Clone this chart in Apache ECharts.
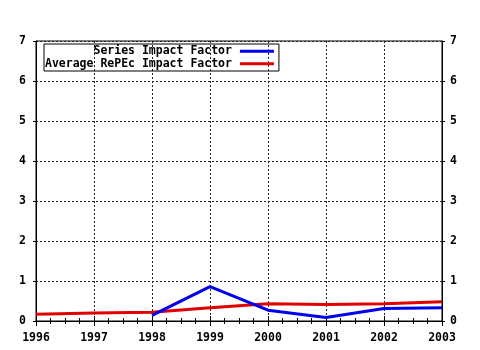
<!DOCTYPE html>
<html>
<head>
<meta charset="utf-8">
<style>
  html, body { margin: 0; padding: 0; background: #fff; }
  #chart { width: 480px; height: 350px; }
</style>
<script src="https://cdn.jsdelivr.net/npm/echarts@6/dist/echarts.min.js"></script>
</head>
<body>
<div id="chart"></div>
<script>
// Impact factor by year
var seriesYears = [1998, 1999, 2000, 2001, 2002, 2003];
var seriesImpact = [0.14, 0.86, 0.27, 0.09, 0.31, 0.33];

var avgYears = [1996, 1997, 1998, 1999, 2000, 2001, 2002, 2003];
var avgImpact = [0.17, 0.20, 0.22, 0.33, 0.43, 0.41, 0.43, 0.48];

var seriesNames = ['Series Impact Factor', 'Average RePEc Impact Factor'];

var FONT = 'DejaVu Sans Mono';
var labelStyle = { color: '#000', fontFamily: FONT, fontWeight: 'bold', fontSize: 11.5 };

function pairs(xs, ys) {
  return xs.map(function (x, i) { return [x, ys[i]]; });
}

// pad names on the left so the monospace legend text lines up on the right
var longest = Math.max.apply(null, seriesNames.map(function (n) { return n.length; }));
function padLeft(s) {
  while (s.length < longest) s = ' ' + s;
  return s;
}

var gridLine = { show: true, lineStyle: { color: '#222', width: 1, type: [2, 2] } };

var chart = echarts.init(document.getElementById('chart'), null, { renderer: 'canvas' });
chart.setOption({
  animation: false,
  backgroundColor: '#fff',
  grid: { left: 36, right: 38, top: 41, bottom: 29, show: true, borderColor: '#000', borderWidth: 1, containLabel: false },
  legend: {
    left: 44, top: 44,
    orient: 'vertical',
    align: 'right',
    itemWidth: 34, itemHeight: 3, itemGap: 0,
    padding: [1, 5, 1, 1],
    borderColor: '#000', borderWidth: 1,
    icon: 'rect',
    textStyle: { color: '#000', fontFamily: FONT, fontWeight: 'bold', fontSize: 11.5, lineHeight: 12.5, padding: [0, 3, 0, 0] },
    formatter: padLeft,
    data: seriesNames
  },
  xAxis: [{
    type: 'value', min: 1996, max: 2003, interval: 1, position: 'bottom',
    axisLine: { show: true, lineStyle: { color: '#000', width: 1 } },
    axisTick: { show: true, inside: true, length: 5, lineStyle: { color: '#000' } },
    minorTick: { show: true, splitNumber: 4, length: 3, lineStyle: { color: '#000' } },
    axisLabel: Object.assign({ margin: 11, formatter: function (v) { return String(v); } }, labelStyle),
    splitLine: gridLine
  }, {
    type: 'value', min: 1996, max: 2003, interval: 1, position: 'top',
    axisLine: { show: true, lineStyle: { color: '#000', width: 1 } },
    axisTick: { show: true, inside: true, length: 5, lineStyle: { color: '#000' } },
    minorTick: { show: true, splitNumber: 4, length: 3, lineStyle: { color: '#000' } },
    axisLabel: { show: false },
    splitLine: { show: false }
  }],
  yAxis: [{
    type: 'value', min: 0, max: 7, interval: 1, position: 'left',
    axisLine: { show: true, lineStyle: { color: '#000', width: 1 } },
    axisTick: { show: true, inside: false, length: 3, lineStyle: { color: '#000' } },
    axisLabel: Object.assign({ margin: 10 }, labelStyle),
    splitLine: gridLine
  }, {
    type: 'value', min: 0, max: 7, interval: 1, position: 'right',
    axisLine: { show: true, lineStyle: { color: '#000', width: 1 } },
    axisTick: { show: true, inside: false, length: 3, lineStyle: { color: '#000' } },
    axisLabel: Object.assign({ margin: 8 }, labelStyle),
    splitLine: { show: false }
  }],
  series: [{
    name: seriesNames[0], type: 'line', xAxisIndex: 0, yAxisIndex: 0,
    data: pairs(seriesYears, seriesImpact),
    showSymbol: false, symbol: 'none',
    color: '#0000f0',
    lineStyle: { color: '#0000f0', width: 3 },
    z: 3
  }, {
    name: seriesNames[1], type: 'line', xAxisIndex: 0, yAxisIndex: 0,
    data: pairs(avgYears, avgImpact),
    showSymbol: false, symbol: 'none',
    color: '#e00000',
    lineStyle: { color: '#e00000', width: 3 },
    z: 2
  }]
});
</script>
</body>
</html>
